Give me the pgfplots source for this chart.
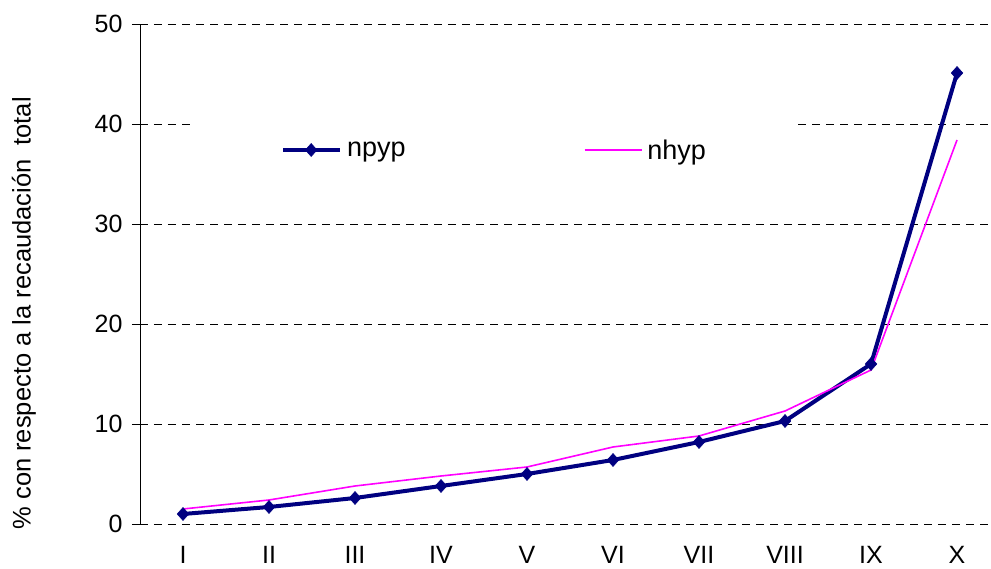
\documentclass[border=0pt]{standalone}
\usepackage{fontspec}
\setmainfont{Liberation Sans}
\usepackage{pgfplots}
\pgfplotsset{compat=1.18}
\definecolor{npypc}{RGB}{0,0,128}
\definecolor{nhypc}{RGB}{255,0,255}
\begin{document}
\begin{tikzpicture}
\begin{axis}[
  at={(140pt,45pt)}, anchor=south west,
  scale only axis, width=851pt, height=500pt,
  xmin=-0.5, xmax=9.395, ymin=0, ymax=50,
  axis lines=left,
  axis line style={-},
  x axis line style={draw=none},
  y axis line style={black, line width=0.8pt},
  xtick={0,1,2,3,4,5,6,7,8,9},
  xticklabels={I,II,III,IV,V,VI,VII,VIII,IX,X},
  x tick style={draw=none},
  extra x ticks={-0.5,0.5,1.5,2.5,3.5,4.5,5.5,6.5,7.5,8.5},
  extra x tick labels={},
  extra x tick style={tick align=outside, major tick length=7pt, tick style={draw=black, line width=0.8pt}, grid=none},
  ytick={0,10,20,30,40,50},
  y tick style={black, line width=0.8pt},
  tick align=outside, major tick length=8pt,
  ymajorgrids,
  major grid style={black, dash pattern=on 8pt off 6pt, line width=0.8pt},
  /pgf/number format/assume math mode=true,
  ticklabel style={font=\fontsize{25}{30}\selectfont},
  xticklabel style={yshift=-11pt},
  yticklabel style={xshift=-6pt},
  ylabel={\% con respecto a la recaudación\ \ total},
  every axis y label/.style={at={(rel axis cs:-0.1363,0.4215)}, rotate=90, anchor=center, font=\fontsize{25.5}{30}\selectfont},
  legend columns=2,
  legend style={at={(rel axis cs:0.0646,0.748)}, anchor=west, draw=none, fill=white,
    font=\fontsize{27}{32}\selectfont, inner xsep=86pt, inner ysep=30pt,
    /tikz/every odd column/.append style={column sep=3pt},
    /tikz/every even column/.append style={column sep=176pt}},
  legend image code/.code={\draw[mark repeat=2,mark phase=2,#1] plot coordinates {(0pt,0pt) (28pt,0pt) (57pt,0pt)};},
  clip=false,
]
\addplot[npypc, line width=4pt, mark=diamond*, mark size=6.5pt, mark options={solid, line width=0.5pt, fill=npypc, xscale=1.2}]
  coordinates {(0,1.0) (1,1.7) (2,2.6) (3,3.8) (4,5.0) (5,6.4) (6,8.2) (7,10.3) (8,16.0) (9,45.1)};
\addlegendentry{npyp}
\addplot[nhypc, line width=1.6pt, mark=none]
  coordinates {(0,1.5) (1,2.4) (2,3.8) (3,4.8) (4,5.7) (5,7.7) (6,8.8) (7,11.3) (8,15.4) (9,38.4)};
\addlegendentry{nhyp}
\end{axis}
\pgfresetboundingbox
\useasboundingbox (0,0) rectangle (991pt,569pt);
\end{tikzpicture}
\end{document}
